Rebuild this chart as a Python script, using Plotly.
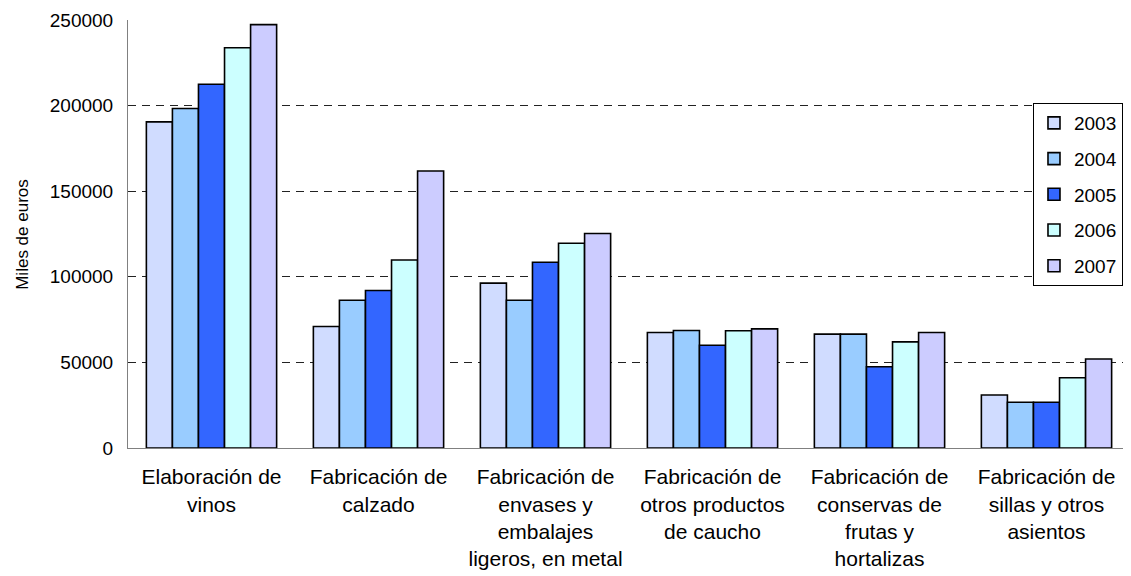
import plotly.graph_objects as go

categories = [
    "Elaboración de<br>vinos",
    "Fabricación de<br>calzado",
    "Fabricación de<br>envases y<br>embalajes<br>ligeros, en metal",
    "Fabricación de<br>otros productos<br>de caucho",
    "Fabricación de<br>conservas de<br>frutas y<br>hortalizas",
    "Fabricación de<br>sillas y otros<br>asientos",
]
years = ["2003", "2004", "2005", "2006", "2007"]
v2003 = [190500, 71000, 96300, 67500, 66500, 31000]
v2004 = [198300, 86300, 86300, 68600, 66500, 26700]
v2005 = [212500, 92000, 108500, 60000, 47500, 26700]
v2006 = [233800, 109800, 119600, 68500, 62000, 41000]
v2007 = [247300, 161800, 125300, 69600, 67500, 52000]
series = [v2003, v2004, v2005, v2006, v2007]
colors = ["#D0DCFF", "#99CCFF", "#3366FF", "#CCFFFF", "#CCCCFF"]
yticks = [0, 50000, 100000, 150000, 200000, 250000]
y_title = "Miles de euros"

FONT = "Liberation Sans, Arial, sans-serif"

fig = go.Figure()
for yr, vals, col in zip(years, series, colors):
    fig.add_trace(go.Bar(
        x=categories, y=vals, name=yr, legendgroup=yr,
        marker=dict(color=col, line=dict(color="black", width=1.6)),
    ))

# page body has an 8px margin: figure is sized so the plot lands at the reference spot
fig.update_layout(
    width=1123, height=568,
    margin=dict(l=120, r=1, t=12, b=128, autoexpand=False),
    paper_bgcolor="white", plot_bgcolor="white",
    barmode="group", bargap=0.22, bargroupgap=0,
    font=dict(family=FONT, size=19, color="black"),
    showlegend=True,
    legend=dict(
        x=0.993, xanchor="right", y=0.806, yanchor="top",
        bgcolor="white", bordercolor="black", borderwidth=1,
        font=dict(family=FONT, size=19, color="black"),
        tracegroupgap=8, traceorder="grouped",
    ),
    xaxis=dict(
        automargin=False,
        showline=True, linecolor="#808080", linewidth=1,
        ticks="outside", ticklen=10, tickcolor="rgba(0,0,0,0)", showgrid=False,
        tickfont=dict(family=FONT, size=21, color="black"),
    ),
    yaxis=dict(
        automargin=False,
        range=[0, 250000], tickvals=yticks,
        ticktext=[str(t) for t in yticks],
        showline=True, linecolor="#808080", linewidth=1,
        ticks="outside", ticklen=10, tickcolor="rgba(0,0,0,0)",
        showgrid=True, gridcolor="#222222", gridwidth=1, griddash="8px,6px",
        zeroline=False,
        tickfont=dict(family=FONT, size=19, color="black"),
    ),
    annotations=[dict(
        text=y_title, textangle=-90, showarrow=False,
        xref="paper", yref="paper", x=-0.106, y=0.5,
        xanchor="center", yanchor="middle",
        font=dict(family=FONT, size=17, color="black"),
    )],
)

fig.write_html("out.html")
